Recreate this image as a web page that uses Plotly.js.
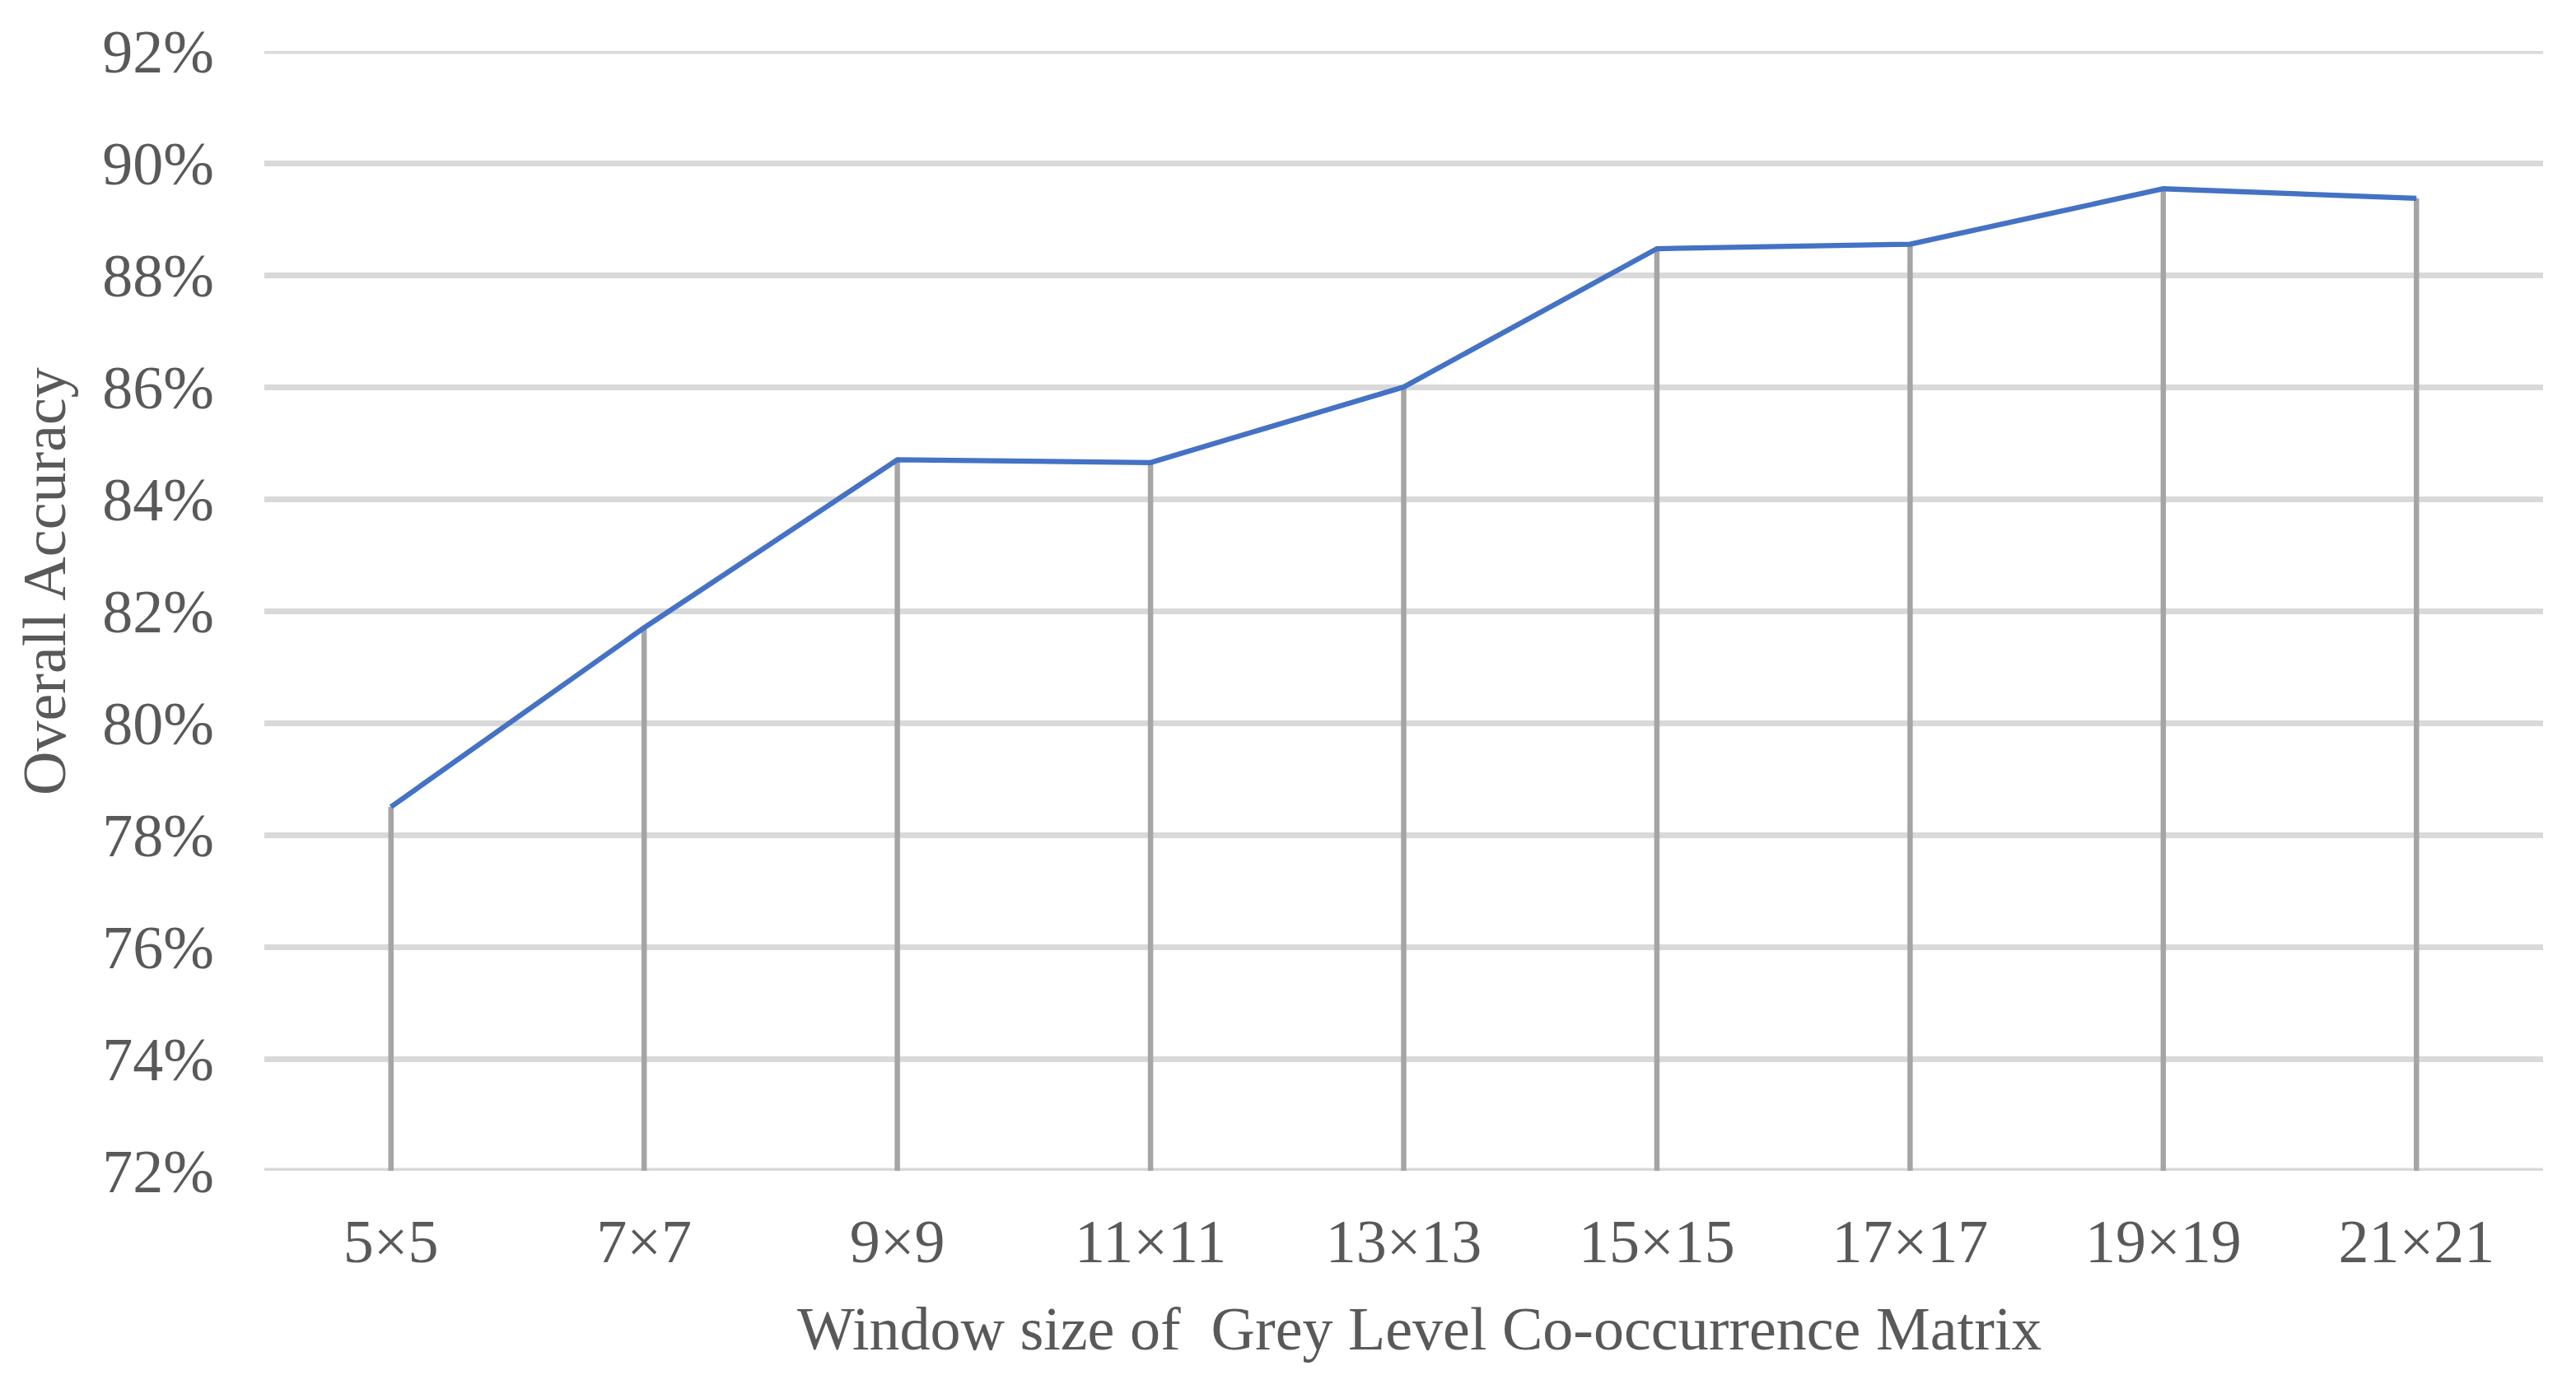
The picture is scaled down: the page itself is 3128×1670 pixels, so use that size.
<!DOCTYPE html>
<html>
<head>
<meta charset="utf-8">
<script src="https://cdn.plot.ly/plotly-3.0.1.min.js"></script>
<style>
  html, body { margin: 0; padding: 0; background: #ffffff; }
  #chart { width: 3128px; height: 1670px; }
</style>
</head>
<body>
<div id="chart"></div>
<script>
// ---- data ----
const windowSizes = ['5×5', '7×7', '9×9', '11×11', '13×13', '15×15', '17×17', '19×19', '21×21'];
const overallAccuracy = [0.785, 0.817, 0.847, 0.8465, 0.860, 0.8847, 0.8855, 0.8954, 0.8937];
const yMin = 0.72;
const yMax = 0.92;
const yTitle = 'Overall Accuracy';
const xTitle = 'Window size of\u00a0 Grey Level Co-occurrence Matrix';

const fontFamily = '"Liberation Serif", "Times New Roman", serif';
const textColor = '#595959';
const gridColor = '#D9D9D9';
const gridWidth = 7;

// drop lines from the axis floor up to each point
const dropLines = {
  type: 'scatter',
  mode: 'markers',
  x: windowSizes,
  y: overallAccuracy,
  marker: { size: 1, opacity: 0 },
  error_y: {
    type: 'data',
    symmetric: false,
    array: overallAccuracy.map(() => 0),
    arrayminus: overallAccuracy.map(v => v - yMin),
    color: '#A5A5A5',
    thickness: 6.5,
    width: 0
  },
  hoverinfo: 'skip',
  showlegend: false
};

const accuracyLine = {
  type: 'scatter',
  mode: 'lines',
  x: windowSizes,
  y: overallAccuracy,
  line: { color: '#4472C4', width: 6.3 },
  showlegend: false
};

const layout = {
  width: 3128,
  height: 1670,
  paper_bgcolor: '#ffffff',
  plot_bgcolor: '#ffffff',
  margin: { l: 321, r: 40, t: 62, b: 248 },
  font: { family: fontFamily, color: textColor, size: 74 },
  showlegend: false,
  xaxis: {
    type: 'category',
    range: [-0.5, windowSizes.length - 0.5],
    showgrid: false,
    zeroline: false,
    showline: false,
    ticks: '',
    ticklabelstandoff: 36,
    tickfont: { family: fontFamily, color: textColor, size: 74 },
    automargin: false
  },
  yaxis: {
    range: [yMin, yMax],
    dtick: 0.02,
    tick0: yMin,
    tickformat: '.0%',
    showgrid: true,
    gridcolor: gridColor,
    gridwidth: gridWidth,
    zeroline: false,
    showline: false,
    ticks: '',
    ticklabelstandoff: 60,
    tickfont: { family: fontFamily, color: textColor, size: 74 },
    automargin: false
  },
  shapes: [
    { type: 'line', xref: 'paper', yref: 'y', x0: 0, x1: 1, y0: yMin, y1: yMin,
      layer: 'below', line: { color: gridColor, width: gridWidth } },
    { type: 'line', xref: 'paper', yref: 'y', x0: 0, x1: 1, y0: yMax, y1: yMax,
      layer: 'below', line: { color: gridColor, width: gridWidth } }
  ],
  annotations: [
    {
      text: yTitle,
      xref: 'paper', yref: 'paper',
      x: -0.0965, y: 0.5265,
      xanchor: 'center', yanchor: 'middle',
      textangle: -90,
      showarrow: false,
      font: { family: fontFamily, color: textColor, size: 74 }
    },
    {
      text: xTitle,
      xref: 'paper', yref: 'paper',
      x: 0.507, y: -0.141,
      xanchor: 'center', yanchor: 'middle',
      showarrow: false,
      font: { family: fontFamily, color: textColor, size: 74 }
    }
  ]
};

Plotly.newPlot('chart', [dropLines, accuracyLine], layout, { displayModeBar: false, staticPlot: true });
</script>
</body>
</html>
